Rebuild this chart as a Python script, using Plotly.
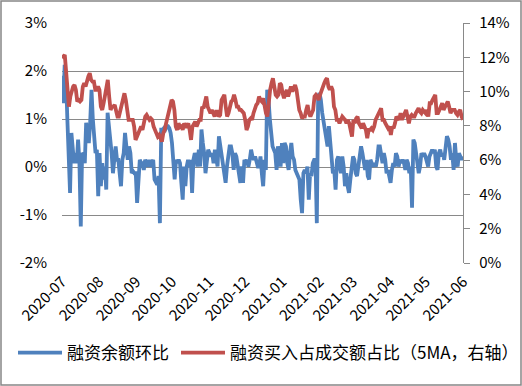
import pandas as pd
import plotly.graph_objects as go

# 融资余额环比 (%), left axis
blue_vals = [
    1.9, 1.33, 2.13, 1.85, 0.99, 0.15, -0.54, 0.71, 0.43, 0.08, 0.29, 0.08, 0.57, 0.08, -1.24, 0.29, 0.26, 0.08, 0.92, 0.67,
    0.5, 0.92, 1.61, 0.99, 0.5, 0.29, 0.36, -0.61, 0.29, -0.4, 0.08, -0.26, 0.01, -0.47, 1.13, 0.92, 0.57, 0.29, -0.13, 0.15,
    0.43, 0.15, 0.15, -0.13, -0.4, 0.15, 0.29, 0.71, 0.5, 0.15, 0.43, 0.29, -0.13, -0.09, -0.13, -0.13, -0.75, -0.13, 0.15, 0.08,
    0.08, -0.06, 0.15, 0.08, 0.01, 0.15, 0.01, 0.08, 0.15, -0.26, -0.33, -0.37, -0.19, -1.17, 0.78, 0.78,
    0.81, 0.78, 0.85, 0.85, 0.81, 0.71, 0.5, 0.15, -0.26, 0.15, 0.08, 0.15, 0.08, -0.33, -0.68, 0.01, -0.4, 0.01, 0.15, 0.01,
    0.15, -0.54, 0.15, 0.29, 0.22, 0.01, 0.36, 0.01, 0.78, 0.5, 0.29, -0.13, 0.15, 0.36, 0.29, 0.22, 0.29, 0.08, 0.36, 0.22,
    0.01, 0.64, 0.43, 0.15, 0.01, -0.26, -0.33, 0.01, 0.22, 0.43, 0.43, 0.29, -0.06, 0.29, 0.22, 0.01, -0.13, -0.33, 0.01, -0.33,
    0.15, 0.08, 0.15, 0.01, 0.15, 0.36, 0.22, 0.15, 0.22, 0.08, 0.01,
    0.01, 0.22, -0.13, -0.4, 0.15, -0.06, 1.61, 1.4, 0.99, 0.57, 0.43, 0.36, 0.29, -0.06, 0.43, 0.29, 0.01, 0.5, 0.08, 0.5,
    0.43, 0.08, -0.06, 0.29, 0.5, 0.22, 0.15, -0.06, -0.13, -0.19, -0.26, -0.68, -0.96, -0.13, -0.06, -0.13, 0.01, -0.68, -0.13, -0.19,
    0.08, 0.15, 0.15, -1.17, 1.47, 1.54, 1.4, 1.13, 0.92, 0.71, 0.5, 0.43, 0.85, 0.57, 0.29, -0.13, -0.06, -0.47, 0.15, 0.22,
    0.01, -0.13, 0.22, 0.01, -0.4, -0.13, -0.4, -0.54, -0.26, 0.08, 0.22, 0.15, -0.13, -0.19, 0.08, 0.29, 0.43,
    0.29, 0.08, -0.06, 0.15, -0.19, -0.26, 0.15, 0.08, 0.01, 0.08, 0.01, 0.15, 0.43, 0.43, 0.29, 0.08, 0.29, 0.15, -0.13, -0.06,
    -0.19, -0.33, -0.06, 0.08, 0.01, 0.29, 0.22, 0.01, 0.15, 0.08, 0.15, 0.08, -0.06, 0.15, 0.08, -0.13, 0.01, -0.85, 0.57, 0.5,
    0.29, 0.08, -0.13, 0.01, 0.29, 0.22, 0.29, 0.22, 0.08, 0.01, 0.22, 0.29, 0.36, 0.29, 0.36, 0.01, -0.06, 0.29, 0.36, 0.22,
    0.29, 0.15, 0.43, 0.64, 0.57, 0.43, 0.15, 0.29, -0.06, 0.5, 0.15, 0.01, 0.29, 0.22, 0.15, 0.22,
]

# 融资买入占成交额占比（5MA）(%), right axis
red_vals = [
    12.14, 12.04, 12.14, 11.07, 10.29, 9.12, 9.71, 10.1, 10.29, 10.39, 10.1, 9.42, 9.51, 9.42, 9.51, 10.29, 10.49, 10.29, 10.68, 10.88,
    11.07, 10.68, 10.58, 10.58, 10.1, 10.1, 10.29, 10.1, 9.12, 8.93, 9.32, 9.9, 10.29, 10.68, 9.71, 8.93, 9.12, 9.12, 9.22, 8.93,
    8.54, 8.54, 8.93, 9.12, 9.51, 9.9, 9.51, 8.74, 8.35, 8.35, 8.35, 8.35, 7.96, 7.18, 7.37, 7.57, 7.76, 7.96, 7.76, 8.15,
    8.54, 8.64, 8.44, 8.35, 8.44, 8.35, 7.96, 7.76, 7.57, 7.37, 7.47, 7.18, 7.08,
    7.57, 7.76, 8.15, 8.54, 8.83, 9.32, 9.51, 9.42, 8.93, 7.96, 7.76, 8.15, 7.96, 8.05, 7.76, 8.15, 7.96, 7.96, 8.15, 7.76,
    7.18, 7.96, 8.15, 8.25, 7.96, 8.15, 8.35, 8.35, 9.12, 9.03, 9.51, 9.71, 9.12, 8.93, 8.74, 8.93, 8.74, 8.54, 8.83, 8.83,
    8.54, 8.64, 9.51, 9.71, 9.81, 9.12, 8.54, 8.74, 9.12, 9.42, 9.51, 9.81, 9.51, 9.12, 9.12, 8.93, 8.93, 8.83, 8.74, 8.35,
    7.76, 7.96, 8.35, 8.44, 8.35, 8.74, 9.03, 9.22, 9.32, 9.71, 9.51, 9.42,
    9.61, 9.12, 8.74, 8.54, 9.51, 10.1, 10.49, 10.78, 10.29, 9.81, 9.71, 9.81, 10.49, 10.39, 9.9, 9.61, 9.9, 10.1, 9.71, 10.1,
    10.29, 10.0, 10.29, 10.39, 10.1, 9.32, 8.93, 8.74, 8.44, 8.54, 8.54, 8.93, 9.22, 8.74, 8.54, 8.74, 8.93, 9.71, 9.81, 9.71,
    9.51, 9.81, 10.1, 10.29, 10.49, 10.68, 10.78, 10.29, 10.1, 10.29, 10.1, 9.12, 8.93, 8.35, 8.35, 8.15, 8.44, 8.54, 8.44, 8.35,
    8.15, 8.35, 8.15, 7.57, 7.37, 8.35, 8.15, 8.44, 8.54, 8.15, 7.96,
    7.86, 8.15, 7.96, 7.76, 7.28, 7.76, 7.76, 7.86, 7.76, 7.96, 8.35, 8.54, 8.74, 8.93, 9.03, 8.35, 8.35, 8.15, 7.96, 7.86,
    7.96, 7.47, 7.96, 7.86, 8.15, 8.54, 8.44, 8.35, 8.74, 8.35, 8.54, 8.83, 8.93, 8.54, 8.15, 8.54, 8.64, 8.54, 8.54, 8.74,
    8.93, 9.03, 8.83, 8.74, 8.93, 8.83, 8.74, 8.93, 8.54, 9.32, 9.32, 9.51, 9.71, 9.81, 8.74, 8.74, 8.93, 9.22, 9.32, 8.93,
    9.12, 9.32, 9.42, 9.12, 8.74, 8.93, 8.93, 8.93, 8.74, 8.64, 8.83, 8.93, 8.54, 8.35,
]

start_date = "2020-07-01"
end_date = "2021-06-01"
month_ticks = ["2020-07", "2020-08", "2020-09", "2020-10", "2020-11", "2020-12",
               "2021-01", "2021-02", "2021-03", "2021-04", "2021-05", "2021-06"]
left_ticks = [-2, -1, 0, 1, 2, 3]
left_labels = ["-2%", "-1%", "0%", "1%", "2%", "3%"]
right_ticks = [0, 2, 4, 6, 8, 10, 12, 14]
series_names = ["融资余额环比", "融资买入占成交额占比（5MA，右轴）"]

blue_dates = pd.date_range(start_date, end_date, periods=len(blue_vals))
red_dates = pd.date_range(start_date, end_date, periods=len(red_vals))

FONT = "Noto Sans CJK SC, Microsoft YaHei, sans-serif"
GRID = "#898989"

fig = go.Figure()
fig.add_trace(go.Scatter(x=blue_dates, y=blue_vals, mode="lines", name=series_names[0],
                         line=dict(color="#4F81BD", width=3.8), legend="legend"))
fig.add_trace(go.Scatter(x=red_dates, y=red_vals, mode="lines", name=series_names[1],
                         line=dict(color="#C0504D", width=3.8), yaxis="y2", legend="legend2"))

W, H = 522, 386
ml, mr, mt, mb = 62, 59, 23, 123
pw, ph = W - ml - mr, H - mt - mb
leg_y = -(353 - mt - ph) / ph
leg_common = dict(orientation="h", xanchor="left", y=leg_y, yanchor="middle",
                  font=dict(size=17, family=FONT), bgcolor="rgba(0,0,0,0)",
                  itemwidth=44, tracegroupgap=0)

fig.update_layout(
    width=W, height=H,
    margin=dict(l=ml, r=mr, t=mt, b=mb, pad=0, autoexpand=False),
    paper_bgcolor="white", plot_bgcolor="white",
    font=dict(family=FONT, size=14, color="#000000"),
    showlegend=True,
    legend=dict(x=(13 - ml) / pw, **leg_common),
    legend2=dict(x=(176 - ml) / pw, **leg_common),
    xaxis=dict(type="date", range=[start_date, end_date],
               tickvals=[m + "-01" for m in month_ticks], ticktext=month_ticks,
               tickangle=-45, showgrid=False, showline=False, zeroline=False,
               ticks="", ticklabelstandoff=6, tickfont=dict(size=15)),
    yaxis=dict(range=[-2, 3], tickvals=left_ticks, ticktext=left_labels,
               showgrid=True, gridcolor=GRID, gridwidth=1.3, zeroline=False,
               showline=False, ticks="", ticklabelstandoff=14, tickfont=dict(size=15)),
    yaxis2=dict(range=[0, 14], tickvals=right_ticks,
                ticktext=[f"{v}%" for v in right_ticks],
                overlaying="y", side="right", showgrid=False, zeroline=False,
                showline=True, linecolor=GRID, linewidth=1.3,
                ticks="outside", ticklen=6, tickcolor=GRID, tickwidth=1.3,
                ticklabelstandoff=6, tickfont=dict(size=15)),
    shapes=[dict(type="rect", xref="paper", yref="paper",
                 x0=(-ml + 1) / pw, x1=1 + (mr - 1) / pw,
                 y0=-(mb - 1) / ph, y1=1 + (mt - 1) / ph,
                 line=dict(color="#868686", width=1.5), fillcolor="rgba(0,0,0,0)",
                 layer="above")],
)

fig.write_html("out.html", config={"displayModeBar": False},
               post_script="document.body.style.margin='0px';")
